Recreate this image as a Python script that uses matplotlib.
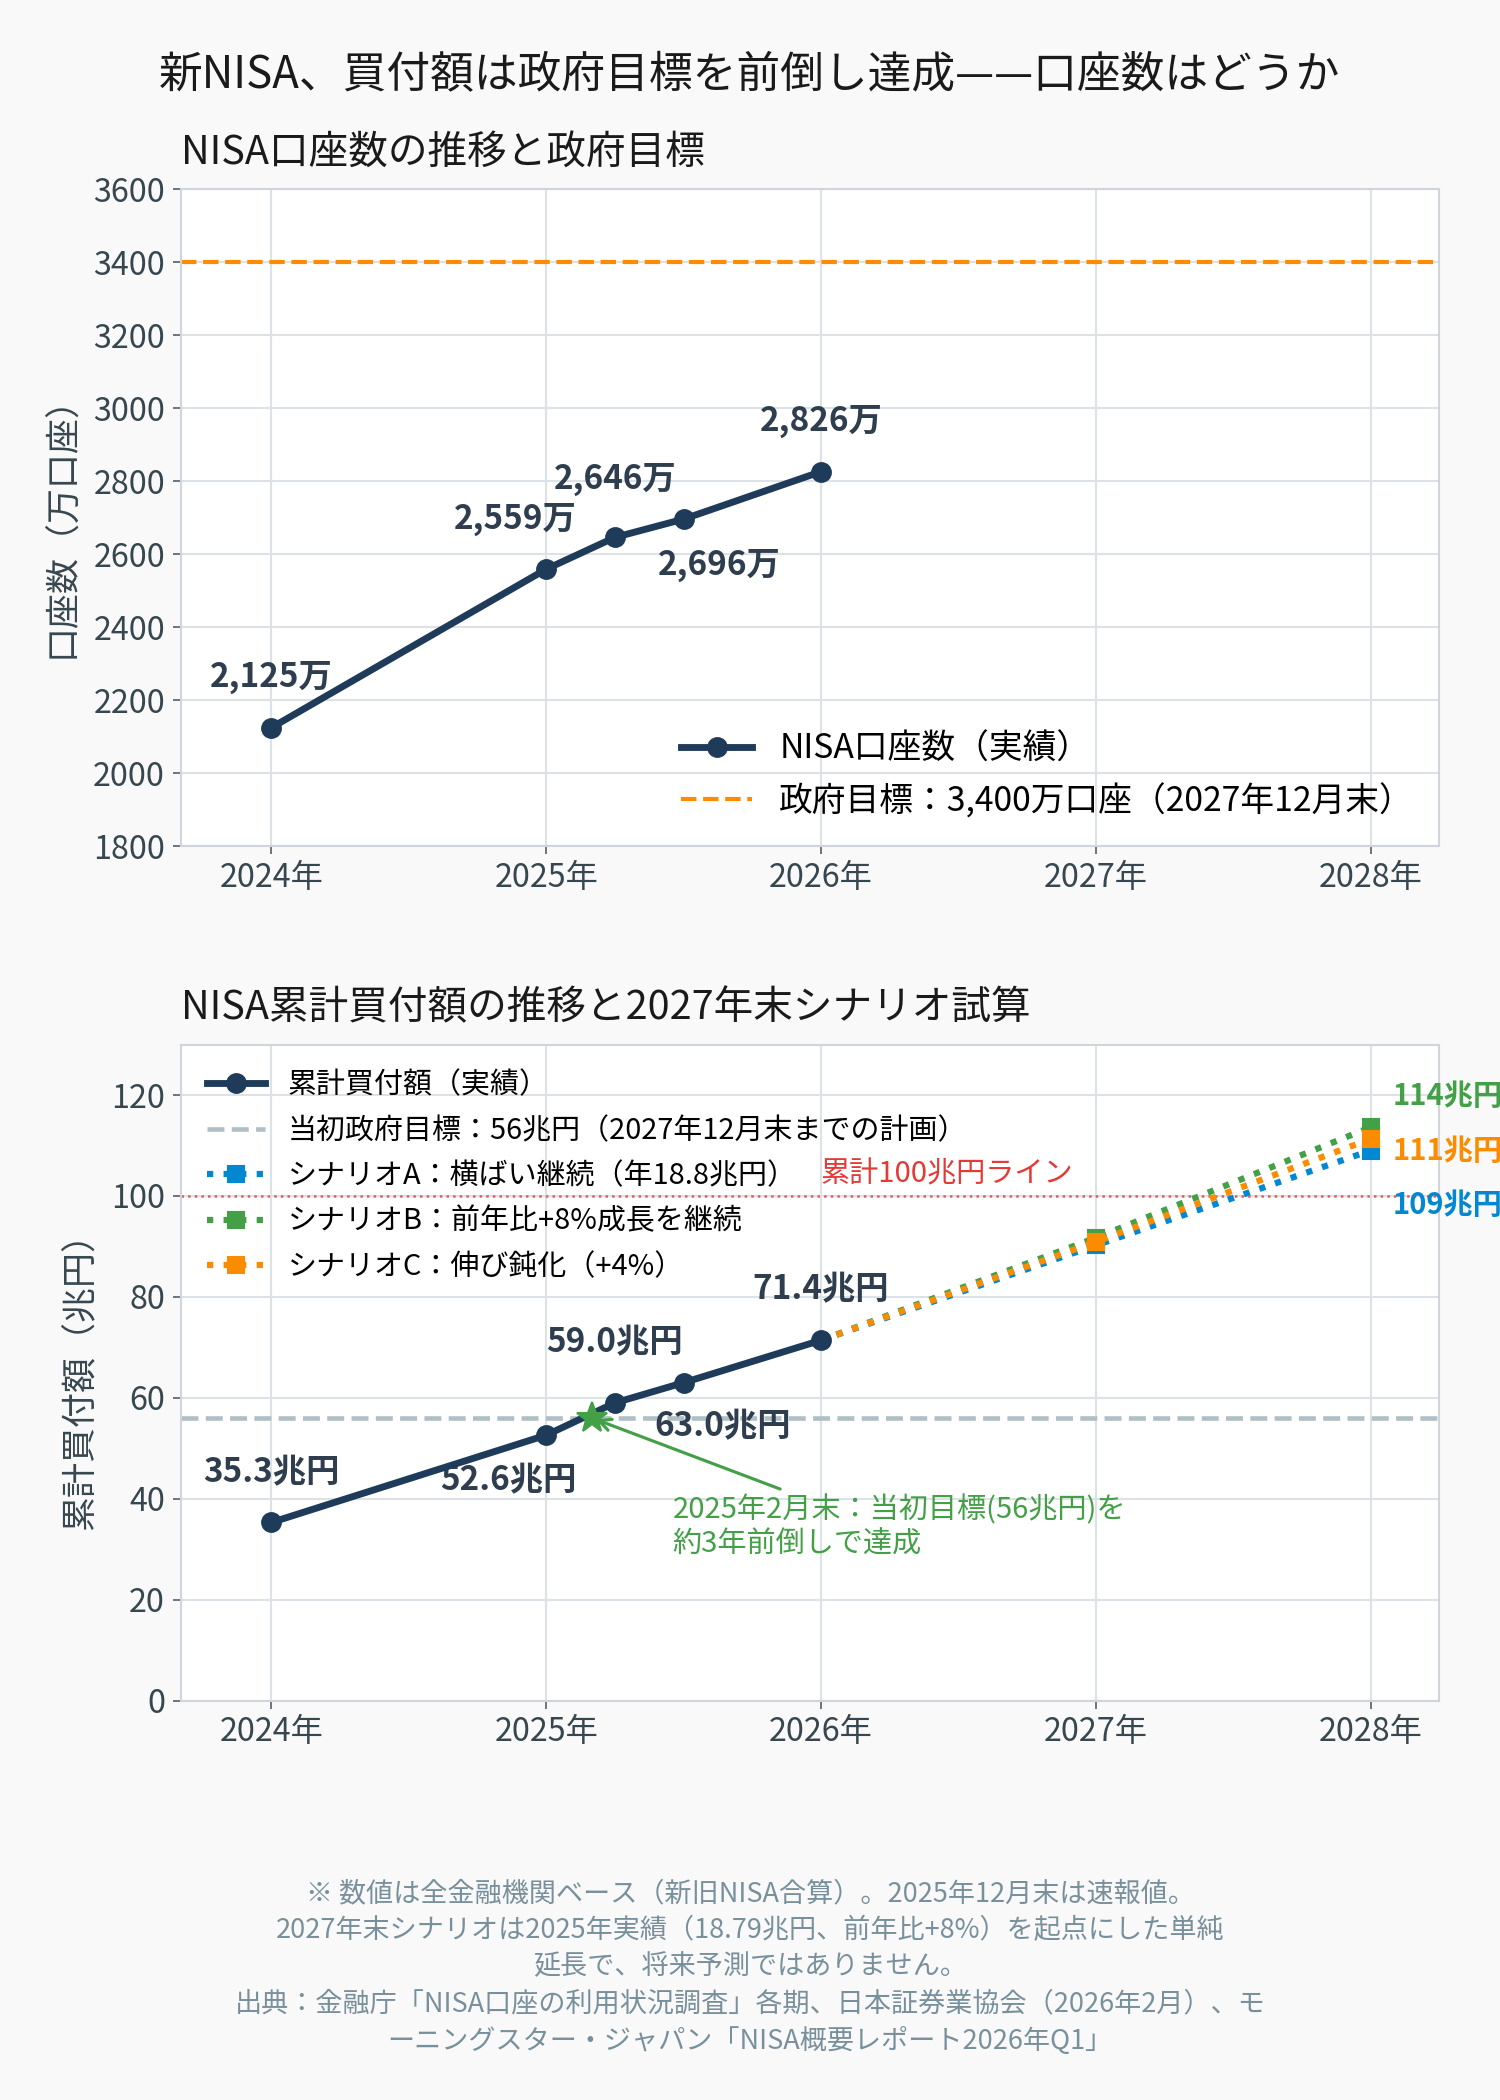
import matplotlib
matplotlib.use('Agg')
import matplotlib.pyplot as plt

plt.rcParams['font.family'] = ['Noto Sans CJK JP', 'DejaVu Sans']

# データ
acc_x = [2024.0, 2025.0, 2025.25, 2025.5, 2026.0]
acc_val = [2125, 2559, 2646, 2696, 2826]
acc_lbl = ['2,125万', '2,559万', '2,646万', '2,696万', '2,826万']
acc_target = 3400

buy_x = [2024.0, 2025.0, 2025.25, 2025.5, 2026.0]
buy_val = [35.3, 52.6, 59.0, 63.0, 71.4]
buy_lbl = ['35.3兆円', '52.6兆円', '59.0兆円', '63.0兆円', '71.4兆円']
buy_target = 56
line100 = 100

sc_x = [2026.0, 2027.0, 2028.0]
sc_a = [71.4, 90.2, 109.0]
sc_b = [71.4, 91.7, 113.6]
sc_c = [71.4, 90.9, 111.3]
sc_end_lbl = ['109兆円', '114兆円', '111兆円']

years = [2024, 2025, 2026, 2027, 2028]
year_lbl = ['2024年', '2025年', '2026年', '2027年', '2028年']

achieve_x = 2025 + 2 / 12
achieve_y = 56

NAVY = '#1f3b5a'
LBL = '#2e3e4e'
GRID = '#dde2e6'
BLUE = '#0288d1'
GREEN = '#43a047'
ORANGE = '#fb8c00'

fig = plt.figure(figsize=(10, 14), dpi=150, facecolor='#f9f9f9')
fig.text(0.5, 0.964, '新NISA、買付額は政府目標を前倒し達成——口座数はどうか',
         ha='center', va='center', fontsize=21, color='#1a1a1a')


def style(ax):
    ax.set_facecolor('white')
    ax.grid(True, color=GRID, lw=1.0)
    ax.set_axisbelow(True)
    for s in ax.spines.values():
        s.set_color('#cfd5da')
        s.set_linewidth(1.0)
    ax.tick_params(colors='#555f66', labelcolor='#37474f', labelsize=15.5, length=4)
    ax.set_xticks(years)
    ax.set_xticklabels(year_lbl)
    ax.set_xlim(2023.67, 2028.25)


# 上段：口座数
ax1 = fig.add_axes([0.1205, 0.597, 0.839, 0.313])
style(ax1)
ax1.plot(acc_x, acc_val, color=NAVY, lw=3.3, marker='o', ms=9, label='NISA口座数（実績）', zorder=3)
ax1.axhline(acc_target, color='#ff8c00', ls='--', lw=2, label='政府目標：3,400万口座（2027年12月末）')
offs1 = [(0, 24), (-15, 24), (0, 28), (17, -22), (0, 24)]
for x, y, t, o in zip(acc_x, acc_val, acc_lbl, offs1):
    ax1.annotate(t, (x, y), xytext=o, textcoords='offset points', ha='center', va='center',
                 fontsize=16, fontweight='bold', color=LBL)
ax1.set_ylim(1800, 3600)
ax1.set_yticks(range(1800, 3601, 200))
ax1.set_ylabel('口座数（万口座）', fontsize=16.8, color='#37474f', labelpad=6)
ax1.set_title('NISA口座数の推移と政府目標', loc='left', fontsize=19, pad=12, color='#1a1a1a')
ax1.legend(loc='lower right', frameon=False, fontsize=16.2, handlelength=2.1,
           labelspacing=0.5, bbox_to_anchor=(1.004, -0.005))

# 下段：累計買付額
ax2 = fig.add_axes([0.1205, 0.1902, 0.839, 0.3124])
style(ax2)
ax2.plot(buy_x, buy_val, color=NAVY, lw=3.3, marker='o', ms=9, label='累計買付額（実績）', zorder=4)
ax2.axhline(buy_target, color='#b0bec5', ls='--', lw=2.2, label='当初政府目標：56兆円（2027年12月末までの計画）')
ax2.plot(sc_x, sc_a, color=BLUE, ls=':', lw=3, marker='s', ms=8, markevery=[1, 2],
         label='シナリオA：横ばい継続（年18.8兆円）', zorder=3)
ax2.plot(sc_x, sc_b, color=GREEN, ls=':', lw=3, marker='s', ms=8, markevery=[1, 2],
         label='シナリオB：前年比+8%成長を継続', zorder=3)
ax2.plot(sc_x, sc_c, color=ORANGE, ls=':', lw=3, marker='s', ms=8, markevery=[1, 2],
         label='シナリオC：伸び鈍化（+4%）', zorder=3)
ax2.axhline(line100, color='#e53935', ls=':', lw=1.2, alpha=0.8)
ax2.text(2026.0, line100 + 4.3, '累計100兆円ライン', color='#e53935', fontsize=14, va='center', ha='left')

offs2 = [(0, 24), (-18, -22), (0, 29), (19, -21), (0, 24)]
for x, y, t, o in zip(buy_x, buy_val, buy_lbl, offs2):
    ax2.annotate(t, (x, y), xytext=o, textcoords='offset points', ha='center', va='center',
                 fontsize=16, fontweight='bold', color=LBL)

ends = [(sc_a[-1], BLUE, -26), (sc_b[-1], GREEN, 15), (sc_c[-1], ORANGE, -6)]
for (v, c, dy), t in zip(ends, sc_end_lbl):
    ax2.annotate(t, (sc_x[-1], v), xytext=(10.5, dy), textcoords='offset points', ha='left', va='center',
                 fontsize=14, fontweight='bold', color=c, annotation_clip=False)

ax2.plot([achieve_x], [achieve_y], marker='*', ms=15, color=GREEN, zorder=5)
ax2.annotate('2025年2月末：当初目標(56兆円)を\n約3年前倒しで達成', (achieve_x, achieve_y),
             xytext=(2025.46, 40.8), ha='left', va='top', fontsize=14, color=GREEN,
             arrowprops=dict(arrowstyle='->', color=GREEN, lw=1.5, relpos=(0.27, 1.0)))

ax2.set_ylim(0, 130)
ax2.set_yticks(range(0, 121, 20))
ax2.set_ylabel('累計買付額（兆円）', fontsize=16.8, color='#37474f', labelpad=6)
ax2.set_title('NISA累計買付額の推移と2027年末シナリオ試算', loc='left', fontsize=19, pad=12, color='#1a1a1a')
ax2.legend(loc='upper left', frameon=False, fontsize=13.9, handlelength=2.0,
           labelspacing=0.53, bbox_to_anchor=(0.0, 1.0))

note = ('※ 数値は全金融機関ベース（新旧NISA合算）。2025年12月末は速報値。\n'
        '2027年末シナリオは2025年実績（18.79兆円、前年比+8%）を起点にした単純\n'
        '延長で、将来予測ではありません。\n'
        '出典：金融庁「NISA口座の利用状況調査」各期、日本証券業協会（2026年2月）、モ\n'
        'ーニングスター・ジャパン「NISA概要レポート2026年Q1」')
fig.text(0.5, 0.1045, note, ha='center', va='top', fontsize=13, color='#78909c', linespacing=1.45)

fig.savefig('out.png', dpi=150, facecolor=fig.get_facecolor())
